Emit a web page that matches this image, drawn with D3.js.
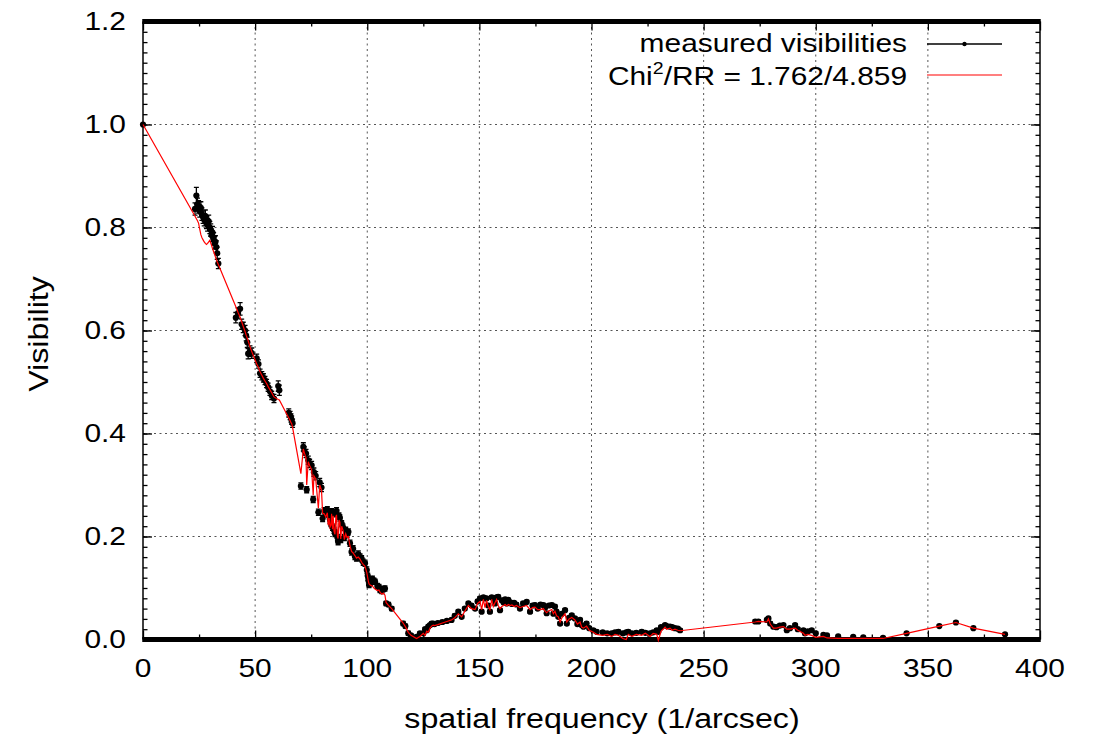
<!DOCTYPE html>
<html>
<head>
<meta charset="utf-8">
<script src="https://cdn.jsdelivr.net/npm/d3@7"></script>
<style>
  body { margin: 0; background: #fff; }
  text { font-family: "Liberation Sans", Arial, Helvetica, sans-serif; fill: #000; }
</style>
</head>
<body>
<svg id="chart" width="1097" height="735"></svg>
<script>
// Axis ticks
const xMajorTicks = [0, 50, 100, 150, 200, 250, 300, 350, 400];
const xMinorTicks = [25, 75, 125, 175, 225, 275, 325, 375];
const yMajorTicks = [0, 0.2, 0.4, 0.6, 0.8, 1.0, 1.2];
const yMinorStep = 0.02;

// Spatial frequency of each baseline (1/arcsec)
const spatialFreq = [
  0, 23.2, 23.8, 24.3, 24.8, 25.3, 25.8, 26.3, 26.8, 27.3,
  27.8, 28.3, 28.8, 29.3, 29.8, 30.2, 30.6, 31.0, 31.5, 31.9,
  32.3, 32.7, 33.1, 33.6,
  41.4, 42.4, 43.3, 44.0, 44.7, 45.5, 46.0, 46.5, 46.9, 47.7,
  48.5, 50.7, 51.5, 52.2, 53.0, 53.7, 54.4, 55.1, 55.8, 56.6,
  57.4, 58.4, 60.3, 60.8,
  65.0, 65.6, 66.0, 66.3, 66.7, 70.4, 71.5, 72.0, 72.7, 73.0,
  73.7, 74.3, 75.2, 75.9, 76.2, 77.0, 78.2, 78.8, 79.6, 80.1,
  80.8, 81.5, 82.2, 82.6, 83.0, 83.4, 83.8, 84.1, 84.5, 84.8,
  85.2, 85.6, 86.0, 86.3, 86.7, 87.0, 87.4, 87.8, 88.2, 88.6,
  89.2, 89.8, 90.4, 91.0, 91.6, 92.3, 93.0, 93.7, 94.5, 95.2,
  96.0, 96.8, 97.5, 98.2, 99.0, 99.8, 100.2, 100.5, 100.8, 101.5,
  102.3, 103.0, 103.5, 104.5, 105.2, 105.7, 106.5, 107.2, 107.9, 108.4,
  109.5, 110.9, 116.0, 117.0, 118.3, 119.5, 122.0, 123.5, 125.0, 125.8,
  126.5, 127.2, 128.0, 128.7, 129.4, 130.0,
  131.5, 133.5, 135.5, 137.6, 139.0, 140.6, 142.1, 143.5, 145.1, 146.5,
  148.1, 149.2, 150.3, 151.0, 151.8, 152.5, 153.2, 154.0, 154.7, 155.5,
  156.2, 157.0, 157.7, 158.4, 159.2, 160.0, 160.8, 161.5, 162.2, 162.9,
  163.8, 164.5, 165.5, 166.5, 168.1, 169.5, 171.1, 172.6, 173.7, 174.8,
  176.0, 177.3, 178.5, 179.3, 180.0, 181.0, 182.3, 183.0, 183.7, 184.4,
  185.2, 186.0, 186.8, 188.2, 189.0, 190.0, 191.2, 192.6, 193.7, 194.9,
  195.6, 196.4, 197.8, 199.0, 200.8, 202.3, 205.0, 207.0, 209.0, 210.5,
  212.0, 214.0, 215.5, 216.4, 218.0, 220.0, 222.4, 224.0, 226.1, 227.5,
  229.1, 229.8, 231.0, 232.8, 233.5, 235.0, 236.0, 237.2, 238.5, 239.5,
  273.0, 274.4, 278.2, 278.9, 279.7, 281.1, 282.5, 284.0, 285.6, 287.1,
  288.5, 290.8, 292.0, 294.5, 295.2, 296.5, 298.2, 300.0, 303.4, 305.0,
  310.0, 316.7, 321.2, 330.0, 340.5, 355.1, 362.5, 370.3, 384.4
];

// Measured visibility amplitudes
const visibility = [
  1.000, 0.836, 0.862, 0.845, 0.840, 0.832, 0.838, 0.826, 0.820, 0.815,
  0.822, 0.810, 0.805, 0.812, 0.800, 0.795, 0.785, 0.790, 0.778, 0.770,
  0.772, 0.762, 0.750, 0.730,
  0.625, 0.634, 0.642, 0.612, 0.606, 0.600, 0.590, 0.577, 0.555, 0.560,
  0.556, 0.546, 0.535, 0.517, 0.512, 0.508, 0.503, 0.497, 0.490, 0.482,
  0.474, 0.468, 0.492, 0.484,
  0.440, 0.435, 0.430, 0.426, 0.420, 0.298, 0.374, 0.366, 0.361, 0.291,
  0.348, 0.342, 0.338, 0.272, 0.325, 0.318, 0.247, 0.305, 0.295, 0.235,
  0.250, 0.244, 0.252, 0.248, 0.240, 0.232, 0.225, 0.248, 0.218, 0.246,
  0.212, 0.206, 0.244, 0.250, 0.198, 0.190, 0.240, 0.236, 0.194, 0.225,
  0.218, 0.198, 0.212, 0.204, 0.209, 0.187, 0.170, 0.176, 0.161, 0.158,
  0.166, 0.160, 0.157, 0.150, 0.148, 0.135, 0.124, 0.115, 0.106, 0.110,
  0.118, 0.114, 0.112, 0.104, 0.102, 0.096, 0.094, 0.098, 0.099, 0.070,
  0.068, 0.060, 0.031, 0.026, 0.012, 0.008, 0.005, 0.012, 0.012, 0.020,
  0.018, 0.025, 0.028, 0.031, 0.031, 0.030,
  0.032, 0.034, 0.036, 0.038, 0.046, 0.054, 0.044, 0.060, 0.070, 0.066,
  0.060, 0.074, 0.080, 0.054, 0.082, 0.080, 0.080, 0.066, 0.054, 0.082,
  0.080, 0.070, 0.082, 0.083, 0.057, 0.076, 0.072, 0.078, 0.070, 0.077,
  0.072, 0.069, 0.071, 0.068, 0.060, 0.070, 0.073, 0.054, 0.066, 0.067,
  0.060, 0.068, 0.067, 0.062, 0.051, 0.066, 0.067, 0.050, 0.064, 0.054,
  0.044, 0.031, 0.050, 0.057, 0.031, 0.042, 0.047, 0.041, 0.030, 0.038,
  0.028, 0.025, 0.031, 0.022, 0.018, 0.015, 0.014, 0.012, 0.012, 0.014,
  0.015, 0.012, 0.014, 0.015, 0.012, 0.013, 0.015, 0.013, 0.012, 0.014,
  0.018, 0.015, 0.024, 0.028, 0.026, 0.025, 0.024, 0.022, 0.021, 0.018,
  0.035, 0.035, 0.038, 0.041, 0.031, 0.025, 0.024, 0.027, 0.028, 0.018,
  0.022, 0.028, 0.020, 0.018, 0.012, 0.016, 0.018, 0.012, 0.009, 0.008,
  0.006, 0.005, 0.004, 0.003, 0.012, 0.026, 0.033, 0.022, 0.010
];

// One-sigma uncertainty of each visibility
const visError = [
  0.000, 0.012, 0.016, 0.012, 0.012, 0.012, 0.012, 0.012, 0.012, 0.012,
  0.012, 0.012, 0.012, 0.012, 0.012, 0.012, 0.012, 0.012, 0.012, 0.012,
  0.012, 0.012, 0.012, 0.010,
  0.010, 0.010, 0.012, 0.010, 0.010, 0.010, 0.010, 0.010, 0.010, 0.010,
  0.010, 0.008, 0.008, 0.008, 0.008, 0.008, 0.008, 0.008, 0.008, 0.008,
  0.008, 0.008, 0.010, 0.010,
  0.008, 0.008, 0.008, 0.008, 0.008, 0.006, 0.008, 0.008, 0.008, 0.006,
  0.008, 0.008, 0.008, 0.006, 0.008, 0.008, 0.006, 0.008, 0.008, 0.006,
  0.006, 0.006, 0.006, 0.006, 0.006, 0.006, 0.006, 0.006, 0.006, 0.006,
  0.006, 0.006, 0.006, 0.006, 0.006, 0.006, 0.006, 0.006, 0.006, 0.006,
  0.006, 0.006, 0.006, 0.006, 0.006, 0.006, 0.006, 0.006, 0.006, 0.006,
  0.006, 0.006, 0.006, 0.006, 0.006, 0.006, 0.005, 0.005, 0.005, 0.005,
  0.005, 0.005, 0.005, 0.005, 0.005, 0.005, 0.005, 0.005, 0.005, 0.004,
  0.004, 0.004, 0.004, 0.004, 0.004, 0.003, 0.003, 0.003, 0.003, 0.003,
  0.003, 0.003, 0.003, 0.003, 0.003, 0.003,
  0.003, 0.003, 0.003, 0.003, 0.003, 0.003, 0.003, 0.003, 0.003, 0.003,
  0.003, 0.003, 0.003, 0.003, 0.003, 0.003, 0.003, 0.003, 0.003, 0.003,
  0.003, 0.003, 0.003, 0.003, 0.003, 0.003, 0.003, 0.003, 0.003, 0.003,
  0.003, 0.003, 0.003, 0.003, 0.003, 0.003, 0.003, 0.003, 0.003, 0.003,
  0.003, 0.003, 0.003, 0.003, 0.003, 0.003, 0.003, 0.003, 0.003, 0.003,
  0.003, 0.003, 0.003, 0.003, 0.003, 0.003, 0.003, 0.003, 0.003, 0.003,
  0.003, 0.003, 0.003, 0.003, 0.003, 0.003, 0.003, 0.003, 0.003, 0.003,
  0.003, 0.003, 0.003, 0.003, 0.003, 0.003, 0.003, 0.003, 0.003, 0.003,
  0.003, 0.003, 0.003, 0.003, 0.003, 0.003, 0.003, 0.003, 0.003, 0.003,
  0.003, 0.003, 0.003, 0.003, 0.003, 0.003, 0.003, 0.003, 0.003, 0.003,
  0.003, 0.003, 0.003, 0.003, 0.003, 0.003, 0.003, 0.003, 0.002, 0.002,
  0.002, 0.002, 0.002, 0.002, 0.002, 0.002, 0.002, 0.002, 0.002
];

// Model visibility evaluated at each baseline
const modelVis = [
  1.000, 0.822, 0.817, 0.813, 0.808, 0.797, 0.786, 0.780, 0.776, 0.772,
  0.769, 0.767, 0.769, 0.772, 0.775, 0.770, 0.765, 0.759, 0.753, 0.748,
  0.743, 0.738, 0.733, 0.728,
  0.646, 0.635, 0.626, 0.617, 0.608, 0.598, 0.591, 0.585, 0.580, 0.569,
  0.559, 0.535, 0.528, 0.520, 0.513, 0.507, 0.502, 0.497, 0.491, 0.485,
  0.479, 0.471, 0.466, 0.465,
  0.430, 0.425, 0.421, 0.419, 0.412, 0.322, 0.370, 0.362, 0.352, 0.300,
  0.345, 0.338, 0.330, 0.280, 0.318, 0.312, 0.255, 0.300, 0.290, 0.245,
  0.244, 0.238, 0.246, 0.222, 0.236, 0.218, 0.222, 0.244, 0.214, 0.240,
  0.210, 0.204, 0.238, 0.242, 0.200, 0.196, 0.232, 0.228, 0.195, 0.220,
  0.212, 0.194, 0.205, 0.198, 0.200, 0.182, 0.171, 0.168, 0.163, 0.158,
  0.160, 0.156, 0.150, 0.146, 0.142, 0.130, 0.120, 0.113, 0.108, 0.105,
  0.104, 0.100, 0.098, 0.095, 0.096, 0.092, 0.088, 0.090, 0.086, 0.072,
  0.066, 0.060, 0.032, 0.025, 0.014, 0.008, 0.002, 0.006, 0.012, 0.008,
  0.016, 0.014, 0.022, 0.026, 0.028, 0.027,
  0.029, 0.032, 0.035, 0.038, 0.042, 0.050, 0.044, 0.055, 0.066, 0.060,
  0.058, 0.070, 0.074, 0.058, 0.078, 0.062, 0.076, 0.064, 0.058, 0.078,
  0.064, 0.072, 0.078, 0.066, 0.060, 0.064, 0.066, 0.068, 0.065, 0.068,
  0.066, 0.067, 0.064, 0.066, 0.062, 0.064, 0.066, 0.058, 0.062, 0.063,
  0.058, 0.058, 0.060, 0.055, 0.052, 0.056, 0.058, 0.050, 0.055, 0.046,
  0.044, 0.034, 0.042, 0.050, 0.034, 0.040, 0.043, 0.038, 0.030, 0.034,
  0.024, 0.022, 0.026, 0.018, 0.014, 0.010, 0.008, 0.010, 0.006, 0.010,
  0.008, 0.002, 0.000, 0.010, 0.006, 0.010, 0.008, 0.012, 0.006, 0.012,
  0.010, -0.002, 0.016, 0.024, 0.020, 0.022, 0.018, 0.020, 0.018, 0.017,
  0.034, 0.035, 0.034, 0.040, 0.030, 0.022, 0.022, 0.024, 0.025, 0.020,
  0.020, 0.022, 0.018, 0.012, 0.008, 0.010, 0.008, 0.004, 0.006, 0.003,
  0.002, 0.002, 0.002, 0.002, 0.012, 0.026, 0.033, 0.022, 0.010
];

const legendData = "measured visibilities";
const legendModelMain = "Chi";
const legendModelSup = "2";
const legendModelRest = "/RR = 1.762/4.859";
const xTitle = "spatial frequency (1/arcsec)";
const yTitle = "Visibility";

const points = spatialFreq.map((f, i) => ({ f, v: visibility[i], e: visError[i], m: modelVis[i] }));

const svg = d3.select("#chart");
const margin = { left: 143, right: 1040, top: 21.5, bottom: 639.5 };
const x = d3.scaleLinear().domain([0, 400]).range([margin.left, margin.right]);
const y = d3.scaleLinear().domain([0, 1.2]).range([margin.bottom, margin.top]);

const fontSize = 26;
const titleSize = 28;
const stretch = 1.15;

// Text helper: horizontally widened glyphs, anchored at (tx, ty)
function label(g, tx, ty, str, anchor, rotate, size) {
  return g.append("g")
    .attr("transform", `translate(${tx},${ty})` + (rotate ? ` rotate(${rotate})` : "") + ` scale(${stretch},1)`)
    .append("text")
    .attr("text-anchor", anchor)
    .attr("dominant-baseline", "central")
    .style("font-size", (size || fontSize) + "px")
    .text(str);
}

// Grid
const grid = svg.append("g").attr("stroke", "#555").attr("stroke-width", 1).attr("stroke-dasharray", "2,3.5");
grid.selectAll("line.gx").data(xMajorTicks.filter(d => d > 0 && d < 400)).join("line")
  .attr("class", "gx")
  .attr("x1", d => x(d)).attr("x2", d => x(d)).attr("y1", y(1.2)).attr("y2", y(0));
grid.selectAll("line.gy").data(yMajorTicks.filter(d => d > 0 && d < 1.2)).join("line")
  .attr("class", "gy")
  .attr("x1", x(0)).attr("x2", x(400)).attr("y1", d => y(d)).attr("y2", d => y(d));

// Inward ticks on all four sides
const yMinorTicks = d3.range(0, 1.2 + 1e-9, yMinorStep);
function tickAxis(axis, tx, ty, values, size) {
  svg.append("g").attr("transform", `translate(${tx},${ty})`)
    .call(axis.tickValues(values).tickSize(-size).tickFormat(""))
    .call(g => g.select(".domain").remove());
}
tickAxis(d3.axisBottom(x), 0, y(0), xMajorTicks, 9);
tickAxis(d3.axisBottom(x), 0, y(0), xMinorTicks, 5);
tickAxis(d3.axisTop(x), 0, y(1.2), xMajorTicks, 9);
tickAxis(d3.axisTop(x), 0, y(1.2), xMinorTicks, 5);
tickAxis(d3.axisLeft(y), x(0), 0, yMinorTicks, 4.5);
tickAxis(d3.axisLeft(y), x(0), 0, yMajorTicks, 9);
tickAxis(d3.axisRight(y), x(400), 0, yMinorTicks, 4.5);
tickAxis(d3.axisRight(y), x(400), 0, yMajorTicks, 9);
svg.selectAll(".tick line").attr("stroke", "#000").attr("stroke-width", 1.3);

// Frame
const frame = svg.append("g").attr("stroke", "#000");
frame.append("line").attr("x1", x(0)).attr("x2", x(0)).attr("y1", y(1.2)).attr("y2", y(0)).attr("stroke-width", 1.5);
frame.append("line").attr("x1", x(400)).attr("x2", x(400)).attr("y1", y(1.2)).attr("y2", y(0)).attr("stroke-width", 1.5);
frame.append("line").attr("x1", x(0) - 0.75).attr("x2", x(400) + 0.75).attr("y1", y(1.2)).attr("y2", y(1.2)).attr("stroke-width", 5);
frame.append("line").attr("x1", x(0) - 0.75).attr("x2", x(400) + 0.75).attr("y1", y(0)).attr("y2", y(0)).attr("stroke-width", 5);

// Tick labels and axis titles
const labels = svg.append("g");
yMajorTicks.forEach(d => label(labels, 126, y(d), d3.format(".1f")(d), "end"));
xMajorTicks.forEach(d => label(labels, x(d), 668, String(d), "middle"));
label(labels, 602, 718, xTitle, "middle", 0, titleSize);
label(labels, 38, 334, yTitle, "middle", -90, titleSize);

// Measured visibilities: error bars and points
const data = svg.append("g");
const cap = 2.5;
data.selectAll("path.err").data(points.filter(p => p.e > 0)).join("path")
  .attr("class", "err")
  .attr("fill", "none").attr("stroke", "#000").attr("stroke-width", 1.3)
  .attr("d", p => {
    const cx = x(p.f), y1 = y(p.v - p.e), y2 = y(p.v + p.e);
    return `M${cx},${y1}V${y2}M${cx - cap},${y1}H${cx + cap}M${cx - cap},${y2}H${cx + cap}`;
  });
data.selectAll("circle").data(points).join("circle")
  .attr("cx", p => x(p.f)).attr("cy", p => y(p.v)).attr("r", 3.1).attr("fill", "#000");

// Model curve
const line = d3.line().x(p => x(p.f)).y(p => y(p.m));
svg.append("path").datum(points).attr("d", line)
  .attr("fill", "none").attr("stroke", "#ff0000").attr("stroke-width", 1.2);

// Legend
const lg = svg.append("g");
label(lg, 907, 43, legendData, "end");
lg.append("line").attr("x1", 927).attr("x2", 1002).attr("y1", 44).attr("y2", 44).attr("stroke", "#000").attr("stroke-width", 1.3);
lg.append("circle").attr("cx", 964.5).attr("cy", 44).attr("r", 2.2).attr("fill", "#000");
const chi = lg.append("g").attr("transform", `translate(907,76) scale(${stretch},1)`)
  .append("text").attr("text-anchor", "end").attr("dominant-baseline", "central").style("font-size", fontSize + "px");
chi.append("tspan").text(legendModelMain);
chi.append("tspan").attr("dy", -9).style("font-size", "17px").text(legendModelSup);
chi.append("tspan").attr("dy", 9).text(legendModelRest);
lg.append("line").attr("x1", 927).attr("x2", 1002).attr("y1", 75).attr("y2", 75).attr("stroke", "#ff0000").attr("stroke-width", 1.2);
</script>
</body>
</html>
